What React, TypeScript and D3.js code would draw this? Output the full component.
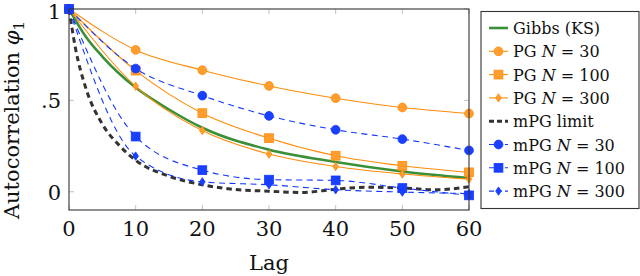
import * as d3 from "d3";

// lags with markers
const lags = [0, 10, 20, 30, 40, 50, 60];

// smooth reference curves (no markers)
const gibbsLags = [0, 2.5, 5, 10, 15, 20, 30, 40, 50, 60];
const gibbsKS = [1, 0.85, 0.74, 0.57, 0.45, 0.35, 0.23, 0.163, 0.111, 0.075];

const limitLags = [0, 1, 2.5, 5, 7.5, 10, 15, 20, 25, 30, 35, 40, 45, 50, 55, 60];
const mpgLimit = [1, 0.78, 0.57, 0.37, 0.255, 0.172, 0.085, 0.038, 0.012, 0.003, -0.004, 0.014, 0.025, 0.02, 0.011, 0.027];

const pg30 = [1, 0.776, 0.665, 0.579, 0.512, 0.461, 0.428];
const pg100 = [1, 0.663, 0.43, 0.293, 0.197, 0.142, 0.106];
const pg300 = [1, 0.577, 0.335, 0.206, 0.138, 0.097, 0.069];
const mpg30 = [1, 0.674, 0.526, 0.415, 0.339, 0.288, 0.226];
const mpg100 = [1, 0.302, 0.118, 0.066, 0.062, 0.02, -0.02];
const mpg300 = [1, 0.195, 0.054, 0.038, 0.011, -0.002, -0.01];

const xTicks = [0, 10, 20, 30, 40, 50, 60];
const yTicks = [0, 0.5, 1];
const yTickLabels = ["0", ".5", "1"];

const ORANGE = "#ff8c0a";
const ORANGE_FILL = "#ff9d2e";
const BLUE = "#1238ff";
const BLUE_FILL = "#1a40ff";
const GREEN = "#3a8f38";
const DARK = "#333333";
const FONT = "DejaVu Serif";

type Mark = "circle" | "square" | "diamond" | "none";

type Series = {
  name: string;
  n?: string;
  xs: number[];
  ys: number[];
  color: string;
  fill: string;
  width: number;
  dash?: string;
  mark: Mark;
};

const series: Series[] = [
  { name: "Gibbs (KS)", xs: gibbsLags, ys: gibbsKS, color: GREEN, fill: GREEN, width: 2.6, mark: "none" },
  { name: "PG", n: "30", xs: lags, ys: pg30, color: ORANGE, fill: ORANGE_FILL, width: 1.1, mark: "circle" },
  { name: "PG", n: "100", xs: lags, ys: pg100, color: ORANGE, fill: ORANGE_FILL, width: 1.1, mark: "square" },
  { name: "PG", n: "300", xs: lags, ys: pg300, color: ORANGE, fill: ORANGE_FILL, width: 1.1, mark: "diamond" },
  { name: "mPG limit", xs: limitLags, ys: mpgLimit, color: DARK, fill: DARK, width: 3, dash: "5.5 4", mark: "none" },
  { name: "mPG", n: "30", xs: lags, ys: mpg30, color: BLUE, fill: BLUE_FILL, width: 1.1, dash: "6 4.5", mark: "circle" },
  { name: "mPG", n: "100", xs: lags, ys: mpg100, color: BLUE, fill: BLUE_FILL, width: 1.1, dash: "6 4.5", mark: "square" },
  { name: "mPG", n: "300", xs: lags, ys: mpg300, color: BLUE, fill: BLUE_FILL, width: 1.1, dash: "6 4.5", mark: "diamond" },
];

function Marker({ kind, cx, cy, color, fill }: { kind: Mark; cx: number; cy: number; color: string; fill: string }) {
  if (kind === "circle") return <circle cx={cx} cy={cy} r={4.4} fill={fill} stroke={color} strokeWidth={0.8} />;
  if (kind === "square") return <rect x={cx - 4.4} y={cy - 4.4} width={8.8} height={8.8} fill={fill} stroke={color} strokeWidth={0.8} />;
  if (kind === "diamond")
    return (
      <path
        d={`M${cx},${cy - 4.2}L${cx + 2.8},${cy}L${cx},${cy + 4.2}L${cx - 2.8},${cy}Z`}
        fill={fill}
        stroke={color}
        strokeWidth={0.8}
      />
    );
  return null;
}

export default function App() {
  const x = d3.scaleLinear().domain([0, 60]).range([69, 469]);
  const y = d3.scaleLinear().domain([-0.1, 1]).range([210, 9]);

  const line = (xs: number[], ys: number[]) =>
    d3
      .line<number>()
      .x((_, i) => x(xs[i]))
      .y((v) => y(v))
      .curve(d3.curveMonotoneX)(ys) ?? undefined;

  const legendX = 481;
  const legendTop = 11.5;
  const rowY = (i: number) => 28 + i * 23.3;
  const txt = { fontFamily: FONT };

  return (
    <svg
      width={640}
      height={276}
      style={{ position: "absolute", left: 0, top: 0, background: "#fff", fontFamily: FONT }}
    >
      {/* ticks */}
      {xTicks.map((t) => (
        <g key={"xt" + t} stroke="#b4b4b4" strokeWidth={0.8}>
          <line x1={x(t)} x2={x(t)} y1={210} y2={205} />
          <line x1={x(t)} x2={x(t)} y1={9} y2={14} />
        </g>
      ))}
      {yTicks.map((t) => (
        <g key={"yt" + t} stroke="#b4b4b4" strokeWidth={0.8}>
          <line x1={69} x2={74} y1={y(t)} y2={y(t)} />
          <line x1={469} x2={464} y1={y(t)} y2={y(t)} />
        </g>
      ))}

      {/* series */}
      {series.map((s, si) => (
        <g key={"s" + si}>
          <path
            d={line(s.xs, s.ys)}
            fill="none"
            stroke={s.color}
            strokeWidth={s.width}
            strokeDasharray={s.dash}
          />
          {s.mark !== "none" &&
            s.ys.map((v, i) => (
              <Marker key={i} kind={s.mark} cx={x(s.xs[i])} cy={y(v)} color={s.color} fill={s.fill} />
            ))}
        </g>
      ))}

      {/* frame */}
      <rect x={69} y={9} width={400} height={201} fill="none" stroke="#333" strokeWidth={1.1} />

      {/* tick labels */}
      {xTicks.map((t) => (
        <text key={"xl" + t} style={txt} x={x(t)} y={236} textAnchor="middle" fontSize={21} fill="#111">
          {t}
        </text>
      ))}
      {yTicks.map((t, i) => (
        <text key={"yl" + t} style={txt} x={61} y={Math.max(y(t) + 8, 19)} textAnchor="end" fontSize={21} fill="#111">
          {yTickLabels[i]}
        </text>
      ))}

      {/* axis labels */}
      <text style={txt} x={269} y={270} textAnchor="middle" fontSize={21} fill="#111">
        Lag
      </text>
      <text style={txt} transform="translate(19,120) rotate(-90)" textAnchor="middle" fontSize={21} fill="#111">
        Autocorrelation <tspan fontStyle="italic">φ</tspan>
        <tspan fontSize={15} dy={5}>1</tspan>
      </text>

      {/* legend */}
      <rect x={legendX} y={legendTop} width={158} height={197} fill="#fff" stroke="#333" strokeWidth={1.1} />
      {series.map((s, i) => {
        const cy = rowY(i);
        return (
          <g key={"lg" + i}>
            <line
              x1={489}
              x2={508}
              y1={cy}
              y2={cy}
              stroke={s.color}
              strokeWidth={s.width}
              strokeDasharray={s.dash ? "5 3" : undefined}
            />
            <Marker kind={s.mark} cx={498.5} cy={cy} color={s.color} fill={s.fill} />
            <text style={txt} x={513} y={cy + 6} fontSize={16} fill="#111">
              {s.name}
              {s.n && (
                <>
                  {" "}
                  <tspan fontStyle="italic">N</tspan> = {s.n}
                </>
              )}
            </text>
          </g>
        );
      })}
    </svg>
  );
}
